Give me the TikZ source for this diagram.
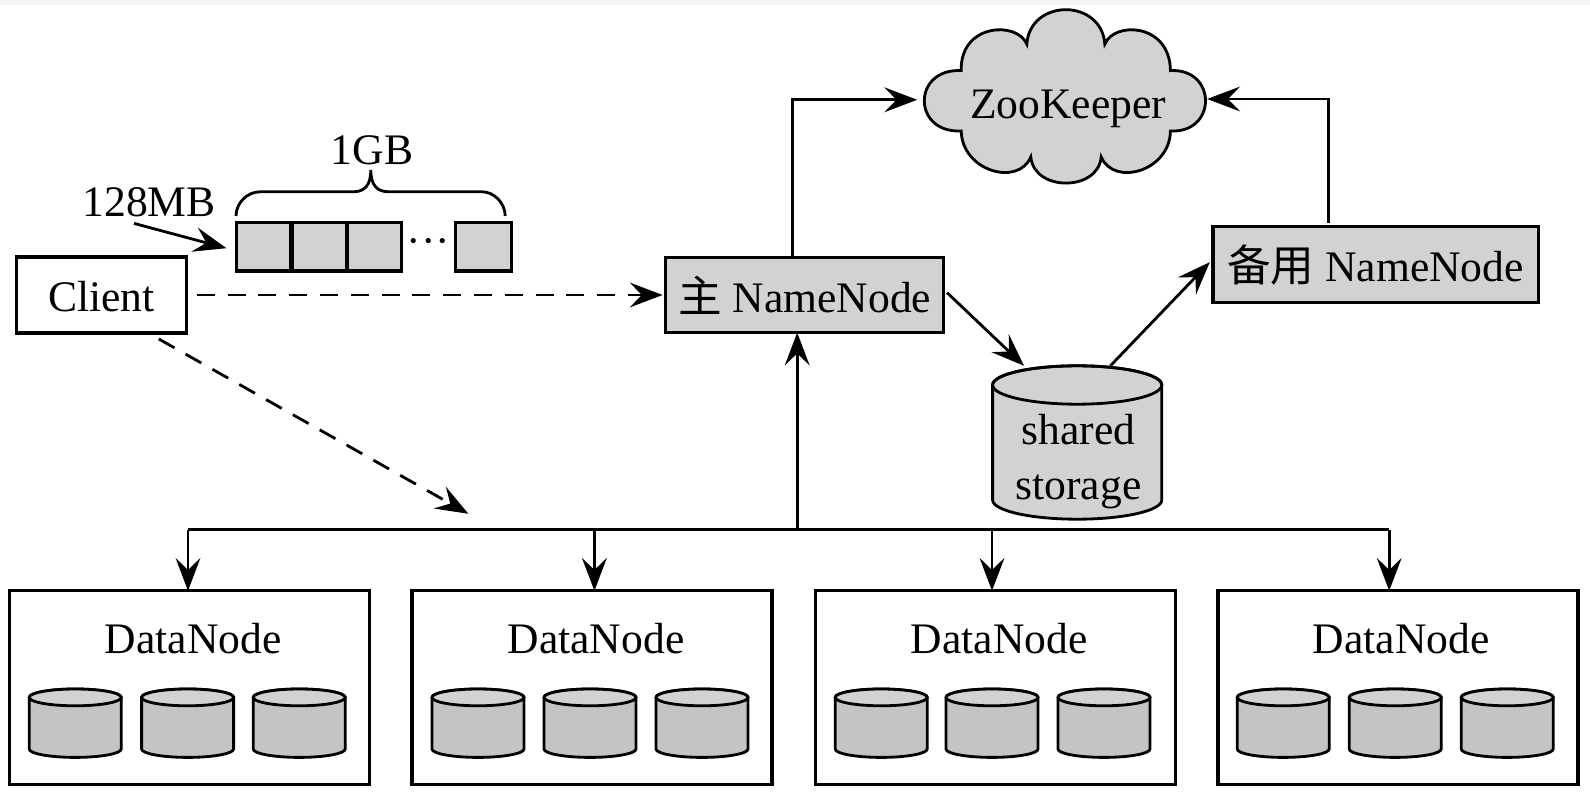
\documentclass[tikz,border=0pt]{standalone}
\usepackage{fontspec}
\setmainfont{Liberation Serif}
\newfontfamily\cjk{Noto Sans CJK SC}
\usetikzlibrary{arrows.meta}
\definecolor{boxgray}{HTML}{D2D2D2}
\definecolor{diskgray}{HTML}{C4C4C4}
\definecolor{topband}{HTML}{F4F5F7}
\tikzset{
    every node/.style={font=\fontsize{31}{39}\selectfont,inner sep=0pt,outer sep=0pt},
    conn/.style={line width=2pt,-{Stealth[length=0.82cm,width=0.62cm,inset=0.3cm]}},
    wire/.style={line width=2pt},
    dashconn/.style={conn,dash pattern=on 0.45cm off 0.32cm},
    whitebox/.style={draw,line width=2.4pt,fill=white},
    graybox/.style={draw,line width=2.4pt,fill=boxgray},
    drumline/.style={line width=2pt},
    txt/.style={anchor=base}
}
% x, y of top end, y of bottom end, x radius, y radius, fill
\newcommand{\drum}[6]{
    \filldraw[drumline,fill=#6] (#1-#4,#2)--(#1-#4,#3) arc[start angle=180,end angle=360,x radius=#4,y radius=#5]--(#1+#4,#2) arc[start angle=0,end angle=180,x radius=#4,y radius=#5];
    \draw[drumline] (#1,#2) ellipse[x radius=#4,y radius=#5];
}
\newcommand{\smalldrum}[1]{
    \filldraw[drumline,fill=diskgray] (#1-1.15,2.39)--(#1-1.15,1.1) arc[start angle=180,end angle=360,x radius=1.15,y radius=0.21]--(#1+1.15,2.39) arc[start angle=0,end angle=180,x radius=1.15,y radius=0.21];
    \draw[drumline,fill=boxgray] (#1,2.39) ellipse[x radius=1.15,y radius=0.21];
}
\begin{document}
\begin{tikzpicture}
    \useasboundingbox (0,0) rectangle (39.75,19.825);
    \fill[topband] (0,19.71) rectangle (39.75,19.825);
    % client and the split file
    \node[whitebox,minimum width=4.26cm,minimum height=1.9cm,text height=0.85cm] (client) at (2.54,12.45) {Client};
    \node[graybox,minimum width=1.36cm,minimum height=1.22cm] (blocka) at (6.59,13.66) {};
    \node[graybox,minimum width=1.36cm,minimum height=1.22cm] (blockb) at (7.98,13.66) {};
    \node[graybox,minimum width=1.36cm,minimum height=1.22cm] (blockc) at (9.36,13.66) {};
    \node (blockdots) at (10.71,13.66) {···};
    \node[graybox,minimum width=1.4cm,minimum height=1.22cm] (blockd) at (12.08,13.66) {};
    \node[txt] (gblabel) at (9.3,15.7) {1GB};
    \node[txt] (mblabel) at (3.73,14.42) {128MB};
    \draw[wire] (5.9,14.425) .. controls (5.9,14.75) and (6.18,15.03) .. (6.5,15.03)--(8.83,15.03) .. controls (9.12,15.03) and (9.27,15.2) .. (9.27,15.58) .. controls (9.27,15.2) and (9.42,15.03) .. (9.72,15.03)--(12.05,15.03) .. controls (12.35,15.03) and (12.63,14.75) .. (12.63,14.425);
    \draw[conn] ([xshift=-0.38cm,yshift=-0.18cm]mblabel.base)--([xshift=-0.25cm,yshift=-0.04cm]blocka.west);
    % name nodes, cloud and storage
    \node[graybox,minimum width=6.95cm,minimum height=1.88cm] (main) at (20.12,12.45) {{\cjk 主} NameNode};
    \node[graybox,minimum width=8.13cm,minimum height=1.9cm] (standby) at (34.39,13.21) {{\cjk 备用} NameNode};
    \filldraw[drumline,fill=boxgray] (24.03,18.06) .. controls (24,19.25) and (25.44,19.3) .. (25.67,18.72) .. controls (25.75,19.87) and (27.54,19.87) .. (27.62,18.72) .. controls (27.85,19.3) and (29.25,19.25) .. (29.26,18.06) .. controls (30.43,18.12) and (30.43,16.49) .. (29.26,16.55) .. controls (29.25,15.55) and (27.85,15.15) .. (27.53,15.9) .. controls (27.45,15.03) and (25.85,15.03) .. (25.77,15.9) .. controls (25.45,15.15) and (24.05,15.55) .. (24.03,16.55) .. controls (22.8,16.49) and (22.8,18.12) .. (24.03,18.06)--cycle;
    \node[txt] (zklabel) at (26.7,16.86) {ZooKeeper};
    \coordinate (zkleft) at (22.93,17.33);
    \coordinate (zkright) at (30.18,17.35);
    \drum{26.93}{10.2}{7.325}{2.115}{0.48}{boxgray}
    \coordinate (store) at (26.93,10.68);
    \node[txt] (storea) at (26.96,8.7) {shared};
    \node[txt] (storeb) at (26.96,7.33) {storage};
    \draw[dashconn] ([xshift=0.25cm]client.east)--([xshift=-0.08cm]main.west);
    \draw[conn] ([xshift=-0.3cm]main.north)|-(zkleft);
    \draw[conn] ([xshift=-1.17cm,yshift=0.1cm]standby.north)|-(zkright);
    \draw[conn] ([xshift=0.08cm,yshift=0.06cm]main.east)--([xshift=-1.33cm]store);
    \draw[conn] ([xshift=0.83cm]store)--([xshift=-0.08cm,yshift=0.06cm]standby.west);
    % data nodes
    \node[whitebox,minimum width=9cm,minimum height=4.85cm] (dna) at (4.73,2.63) {};
    \node[whitebox,minimum width=9cm,minimum height=4.85cm] (dnb) at (14.8,2.63) {};
    \node[whitebox,minimum width=9cm,minimum height=4.85cm] (dnc) at (24.88,2.63) {};
    \node[whitebox,minimum width=9cm,minimum height=4.85cm] (dnd) at (34.95,2.63) {};
    \node[txt] (dnalabel) at (4.83,3.5) {DataNode};
    \node[txt] (dnblabel) at (14.9,3.5) {DataNode};
    \node[txt] (dnclabel) at (24.98,3.5) {DataNode};
    \node[txt] (dndlabel) at (35.03,3.5) {DataNode};
    \smalldrum{1.88}
    \smalldrum{4.69}
    \smalldrum{7.48}
    \smalldrum{11.95}
    \smalldrum{14.75}
    \smalldrum{17.55}
    \smalldrum{22.03}
    \smalldrum{24.8}
    \smalldrum{27.6}
    \smalldrum{32.08}
    \smalldrum{34.88}
    \smalldrum{37.68}
    % bus
    \coordinate (bus) at (19.93,6.58);
    \coordinate (tapa) at (4.7,6.58);
    \coordinate (tapb) at (14.86,6.58);
    \coordinate (tapc) at (24.8,6.58);
    \coordinate (tapd) at (34.73,6.58);
    \coordinate (busend) at (11.71,6.98);
    \draw[wire] (tapa)--(tapd);
    \draw[conn] (tapa)--(tapa|-dna.north);
    \draw[conn] (tapb)--(tapb|-dnb.north);
    \draw[conn] (tapc)--(tapc|-dnc.north);
    \draw[conn] (tapd)--(tapd|-dnd.north);
    \draw[conn] (bus)--(bus|-main.south);
    \draw[dashconn] ([xshift=1.43cm,yshift=-0.15cm]client.south)--(busend);
\end{tikzpicture}
\end{document}
